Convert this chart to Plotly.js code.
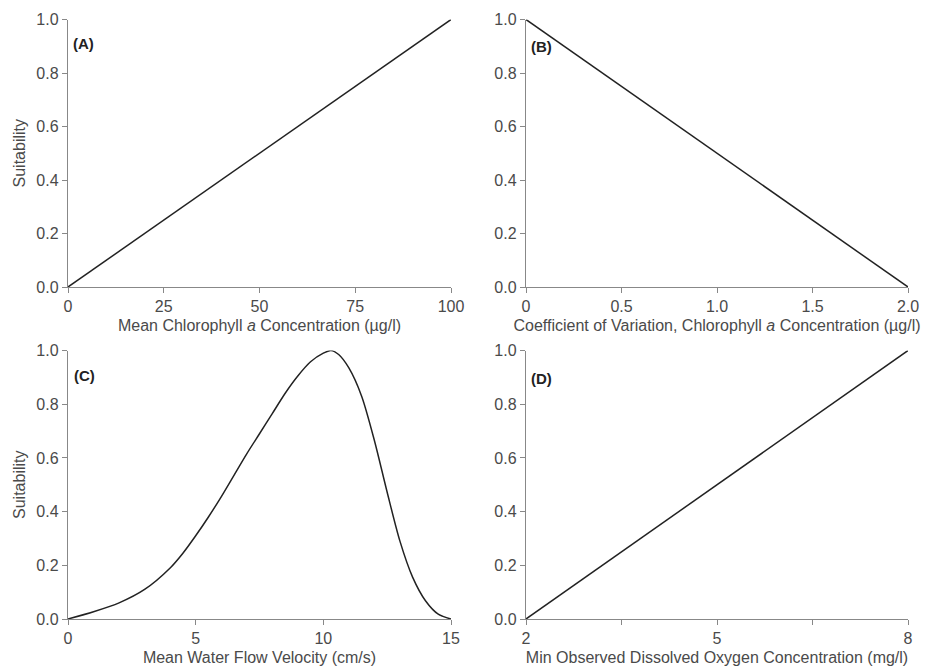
<!DOCTYPE html>
<html>
<head>
<meta charset="utf-8">
<script src="https://cdn.plot.ly/plotly-3.0.1.min.js"></script>
<style>html,body{margin:0;padding:0;background:#fff;}#chart{width:925px;height:668px;}</style>
</head>
<body>
<div id="chart"></div>
<script>
// Panel A: Mean chlorophyll a concentration
const chlX = [0, 100];
const chlY = [0, 1];
// Panel B: Coefficient of variation
const cvX = [0, 2];
const cvY = [1, 0];
// Panel C: Mean water flow velocity
const flowX = [0, 1, 2, 3, 4, 4.5, 5, 5.5, 6, 6.5, 7, 7.5, 8, 8.5, 9, 9.5, 10, 10.3, 10.6, 11, 11.5, 12, 12.5, 13, 13.5, 14, 14.5, 15];
const flowY = [0, 0.027, 0.06, 0.11, 0.19, 0.245, 0.31, 0.38, 0.455, 0.535, 0.615, 0.69, 0.765, 0.84, 0.905, 0.958, 0.99, 1.0, 0.985, 0.935, 0.83, 0.665, 0.472, 0.29, 0.155, 0.068, 0.018, 0];
// Panel D: Min observed dissolved oxygen
const doX = [2, 8];
const doY = [0, 1];

const yTickVals = [0, 0.2, 0.4, 0.6, 0.8, 1.0];
const yTickText = ['0.0', '0.2', '0.4', '0.6', '0.8', '1.0'];
const aTicks = [0, 25, 50, 75, 100];
const aTickText = ['0', '25', '50', '75', '100'];
const bTicks = [0, 0.5, 1.0, 1.5, 2.0];
const bTickText = ['0', '0.5', '1.0', '1.5', '2.0'];
const cTicks = [0, 5, 10, 15];
const cTickText = ['0', '5', '10', '15'];
const dTicks = [2, 3.5, 5, 6.5, 8];
const dTickText = ['2', '', '5', '', '8'];
const panelLabels = ['(A)', '(B)', '(C)', '(D)'];

const W = 925, H = 668;
const dxL = [68 / W, 451 / W];
const dxR = [526 / W, 908 / W];
const dyT = [1 - 287 / H, 1 - 19.5 / H];
const dyB = [1 - 619 / H, 1 - 350.5 / H];

const lineStyle = {color: '#222', width: 1.5};
const traces = [
  {x: chlX, y: chlY, xaxis: 'x', yaxis: 'y', mode: 'lines', line: lineStyle, cliponaxis: false},
  {x: cvX, y: cvY, xaxis: 'x2', yaxis: 'y2', mode: 'lines', line: lineStyle, cliponaxis: false},
  {x: flowX, y: flowY, xaxis: 'x3', yaxis: 'y3', mode: 'lines', line: Object.assign({shape: 'spline', smoothing: 0.8}, lineStyle), cliponaxis: false},
  {x: doX, y: doY, xaxis: 'x4', yaxis: 'y4', mode: 'lines', line: lineStyle, cliponaxis: false}
];

const font = {family: 'Liberation Sans, Arial, sans-serif', size: 16, color: '#4a4a4a'};
const labelFont = {family: 'Liberation Sans, Arial, sans-serif', size: 15, color: '#222'};
function xax(domain, anchor, range, tv, tt, title) {
  return {domain: domain, anchor: anchor, range: range, tickvals: tv, ticktext: tt,
    showline: true, linecolor: '#888', linewidth: 1.2, ticks: 'outside', ticklen: 5, tickcolor: '#888',
    showgrid: false, zeroline: false, tickfont: font, fixedrange: true,
    title: {text: title, font: font, standoff: 5}};
}
function yax(domain, anchor, title) {
  return {domain: domain, anchor: anchor, range: [0, 1], tickvals: yTickVals, ticktext: yTickText,
    showline: true, linecolor: '#888', linewidth: 1.2, ticks: 'outside', ticklen: 5, tickcolor: '#888',
    showgrid: false, zeroline: false, tickfont: font, fixedrange: true,
    title: {text: title, font: font, standoff: 6}};
}

const layout = {
  width: W, height: H, margin: {l: 0, r: 0, t: 0, b: 0},
  paper_bgcolor: '#fff', plot_bgcolor: '#fff', showlegend: false,
  xaxis: xax(dxL, 'y', [0, 100], aTicks, aTickText, 'Mean Chlorophyll <i>a</i> Concentration (µg/l)'),
  yaxis: yax(dyT, 'x', 'Suitability'),
  xaxis2: xax(dxR, 'y2', [0, 2], bTicks, bTickText, 'Coefficient of Variation, Chlorophyll <i>a</i> Concentration (µg/l)'),
  yaxis2: yax(dyT, 'x2', ''),
  xaxis3: xax(dxL, 'y3', [0, 15], cTicks, cTickText, 'Mean Water Flow Velocity (cm/s)'),
  yaxis3: yax(dyB, 'x3', 'Suitability'),
  xaxis4: xax(dxR, 'y4', [2, 8], dTicks, dTickText, 'Min Observed Dissolved Oxygen Concentration (mg/l)'),
  yaxis4: yax(dyB, 'x4', ''),
  annotations: [
    {text: '<b>' + panelLabels[0] + '</b>', xref: 'paper', yref: 'paper', x: 71 / W, y: 1 - 44 / H, xanchor: 'left', yanchor: 'middle', showarrow: false, font: labelFont},
    {text: '<b>' + panelLabels[1] + '</b>', xref: 'paper', yref: 'paper', x: 529 / W, y: 1 - 46 / H, xanchor: 'left', yanchor: 'middle', showarrow: false, font: labelFont},
    {text: '<b>' + panelLabels[2] + '</b>', xref: 'paper', yref: 'paper', x: 72 / W, y: 1 - 375 / H, xanchor: 'left', yanchor: 'middle', showarrow: false, font: labelFont},
    {text: '<b>' + panelLabels[3] + '</b>', xref: 'paper', yref: 'paper', x: 529 / W, y: 1 - 379 / H, xanchor: 'left', yanchor: 'middle', showarrow: false, font: labelFont}
  ]
};

Plotly.newPlot('chart', traces, layout, {displayModeBar: false, staticPlot: true});
</script>
</body>
</html>
